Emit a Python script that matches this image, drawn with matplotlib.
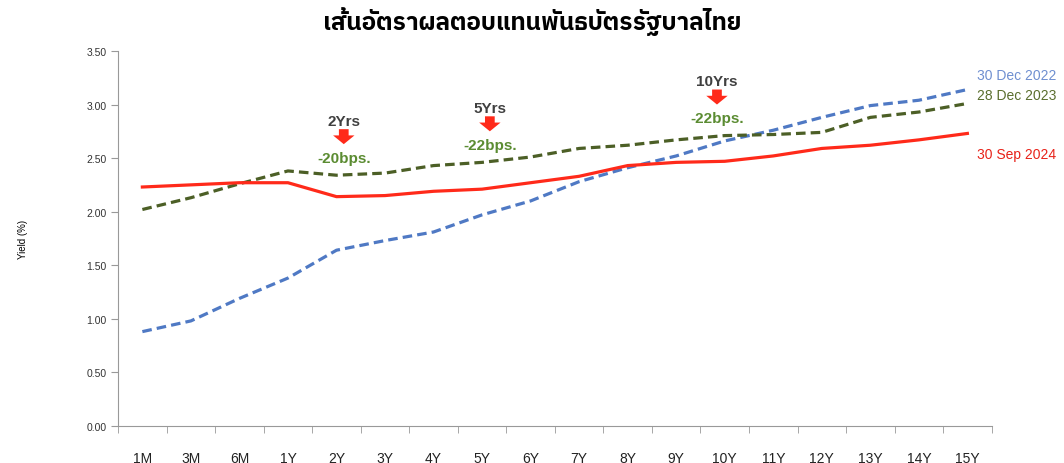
import matplotlib.pyplot as plt
import numpy as np
from matplotlib import font_manager

tenors = ['1M', '3M', '6M', '1Y', '2Y', '3Y', '4Y', '5Y', '6Y', '7Y', '8Y', '9Y',
          '10Y', '11Y', '12Y', '13Y', '14Y', '15Y']
y2022 = [0.88, 0.98, 1.19, 1.38, 1.64, 1.73, 1.81, 1.97, 2.10, 2.28, 2.41, 2.52,
         2.66, 2.76, 2.88, 2.99, 3.04, 3.14]
y2023 = [2.02, 2.13, 2.26, 2.38, 2.34, 2.36, 2.43, 2.46, 2.51, 2.59, 2.62, 2.67,
         2.71, 2.72, 2.74, 2.88, 2.93, 3.01]
y2024 = [2.23, 2.25, 2.27, 2.27, 2.14, 2.15, 2.19, 2.21, 2.27, 2.33, 2.43, 2.46,
         2.47, 2.52, 2.59, 2.62, 2.67, 2.73]
notes = [('2Yrs', '-20bps.', 4), ('5Yrs', '-22bps.', 7), ('10Yrs', '-22bps.', 12)]
note_shift = [0.15, 0.16, -0.16]

# pick a loopless Thai font that has a bold weight installed
bold_names = set(f.name for f in font_manager.fontManager.ttflist
                 if f.weight in (700, 'bold') or 'Bold' in f.fname)
thai = [n for n in ['Noto Sans Thai', 'IBM Plex Sans Thai', 'Anuphan', 'Bai Jamjuree',
                    'Prompt', 'Kanit', 'Sarabun', 'Athiti'] if n in bold_names][:1]

plt.rcParams['font.family'] = ['Liberation Sans', 'DejaVu Sans']

fig = plt.figure(figsize=(10.64, 4.64), dpi=100)
ax = fig.add_axes([0.111, 0.080, 0.821, 0.808])
x = np.arange(len(tenors))

ax.plot(x, y2022, color='#4f79c4', lw=2.3, ls=(0, (3, 1.6)))
ax.plot(x, y2023, color='#4c5f26', lw=2.3, ls=(0, (3, 1.6)))
ax.plot(x, y2024, color='#ff2a1a', lw=2.3)

ax.set_xlim(-0.5, len(tenors) - 0.5)
ax.set_ylim(0, 3.5)
ax.set_yticks(np.arange(0, 3.51, 0.5))
ax.set_yticklabels(['%.2f' % v for v in np.arange(0, 3.51, 0.5)], fontsize=7.5, color='#333333')
ax.set_xticks(x)
ax.set_xticklabels(tenors, fontsize=10, color='#222222')
ax.set_xticks(np.arange(-0.5, len(tenors), 1), minor=True)
ax.tick_params(axis='x', which='major', length=0, pad=18)
ax.tick_params(axis='x', which='minor', length=5, color='#999999')
ax.tick_params(axis='y', length=5, color='#999999')
for s in ['top', 'right']:
    ax.spines[s].set_visible(False)
for s in ['left', 'bottom']:
    ax.spines[s].set_color('#999999')
ax.set_ylabel('Yield (%)', fontsize=7, labelpad=42)

for (top, bps, i), dx in zip(notes, note_shift):
    ty = max(y2022[i], y2023[i], y2024[i])
    xi = i + dx
    ax.text(xi, ty + 0.51, top, ha='center', va='center', fontsize=11,
            fontweight='bold', color='#404040')
    ax.annotate('', xy=(xi, ty + 0.29), xytext=(xi, ty + 0.43),
                arrowprops=dict(arrowstyle='simple,head_width=1.1,head_length=0.45,tail_width=0.5',
                                color='#ff2a1a', lw=0, mutation_scale=14,
                                shrinkA=0, shrinkB=0))
    ax.text(xi, ty + 0.16, bps, ha='center', va='center', fontsize=11,
            fontweight='bold', color='#5b8c32')

ax.text(17.2, 3.28, '30 Dec 2022', color='#6f8fd0', fontsize=10, va='center', clip_on=False)
ax.text(17.2, 3.09, '28 Dec 2023', color='#5a6e2e', fontsize=10, va='center', clip_on=False)
ax.text(17.2, 2.54, '30 Sep 2024', color='#e8231a', fontsize=10, va='center', clip_on=False)

fig.suptitle('เส้นอัตราผลตอบแทนพันธบัตรรัฐบาลไทย', fontsize=17.5, fontweight='bold',
             y=0.985, family=thai + ['DejaVu Sans'])

fig.savefig('out.png', dpi=100)
